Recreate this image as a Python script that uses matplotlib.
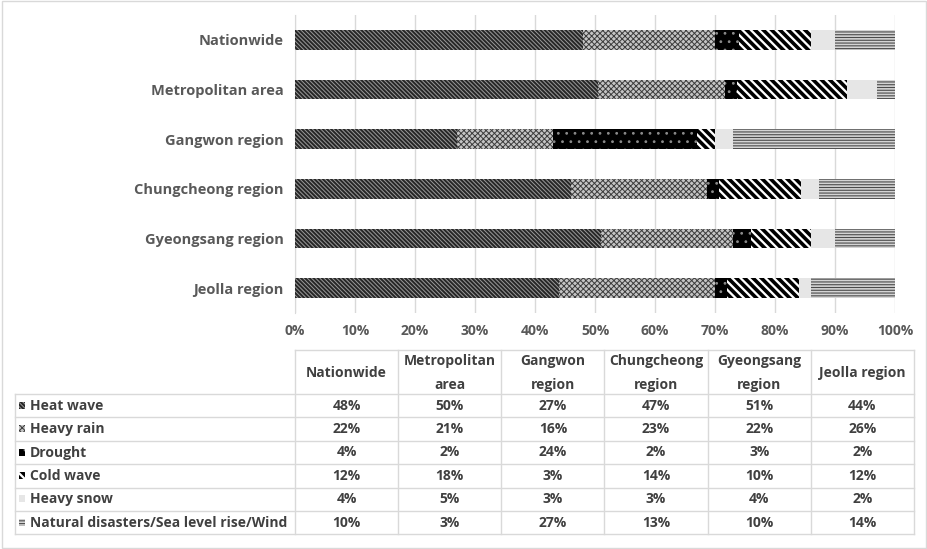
import numpy as np
import matplotlib.pyplot as plt
from matplotlib.patches import Rectangle

regions = ['Nationwide', 'Metropolitan area', 'Gangwon region',
           'Chungcheong region', 'Gyeongsang region', 'Jeolla region']
table_heads = ['Nationwide', 'Metropolitan\narea', 'Gangwon\nregion',
               'Chungcheong\nregion', 'Gyeongsang\nregion', 'Jeolla region']
hazards = ['Heat wave', 'Heavy rain', 'Drought', 'Cold wave', 'Heavy snow',
           'Natural disasters/Sea level rise/Wind']

heat_wave = [48, 50, 27, 47, 51, 44]
heavy_rain = [22, 21, 16, 23, 22, 26]
drought = [4, 2, 24, 2, 3, 2]
cold_wave = [12, 18, 3, 14, 10, 12]
heavy_snow = [4, 5, 3, 3, 4, 2]
natural = [10, 3, 27, 13, 10, 14]
series = [heat_wave, heavy_rain, drought, cold_wave, heavy_snow, natural]

# fill, hatch colour, hatch, hatch width
styles = [
    ('#262626', '#9a9a9a', '\\' * 8, 0.7),
    ('#c4c4c4', '#3c3c3c', 'x' * 6, 0.7),
    ('#000000', '#8a8a8a', '..', 0.8),
    ('#ffffff', '#000000', '\\' * 4, 2.6),
    ('#e6e6e6', '#e6e6e6', None, 0.8),
    ('#d4d4d4', '#4a4a4a', '-' * 6, 0.8),
]

W, H = 928, 549
fig = plt.figure(figsize=(W / 100, H / 100), dpi=100)
plt.rcParams['font.family'] = ['Open Sans', 'DejaVu Sans']

ax = fig.add_axes([295 / W, 1 - 313 / H, 600 / W, 298 / H])
vals = np.array(series, dtype=float)
vals = vals / vals.sum(axis=0) * 100
y = np.arange(len(regions))
left = np.zeros(len(regions))


def set_hatch(p, st):
    if st[2]:
        p.set_hatch(st[2])
        if hasattr(p, 'set_hatch_linewidth'):
            p.set_hatch_linewidth(st[3])
        else:
            p._hatch_linewidth = st[3]


for k, st in enumerate(styles):
    with plt.rc_context({'hatch.linewidth': st[3]}):
        bars = ax.barh(y, vals[k], left=left, height=0.4, color=st[0],
                       edgecolor=st[1], linewidth=0, zorder=3)
        for b in bars:
            set_hatch(b, st)
    left += vals[k]

ax.set_xlim(0, 100)
ax.set_ylim(len(regions) - 0.5, -0.5)
ax.set_yticks(y)
ax.set_yticklabels(regions, fontsize=10.5, fontweight='bold', color='#595959')
ax.set_xticks(np.arange(0, 101, 10))
ax.set_xticklabels([f'{t}%' for t in range(0, 101, 10)], fontsize=10,
                   fontweight='bold', color='#595959')
ax.tick_params(length=0, pad=8)
ax.tick_params(axis='x', pad=8)
ax.grid(axis='x', color='#d9d9d9', linewidth=1, zorder=0)
for s in ['top', 'right', 'bottom']:
    ax.spines[s].set_visible(False)
ax.spines['left'].set_color('#d9d9d9')

# data table underneath
tb = fig.add_axes([0, 0, 1, 1], facecolor='none')
tb.set_xlim(0, W)
tb.set_ylim(H, 0)
tb.axis('off')
lc = '#d9d9d9'
col_x = np.linspace(295, 914, 7)
row_y = [350, 394] + [394 + 23.4 * (i + 1) for i in range(6)]
tb.plot([col_x[0], col_x[-1]], [row_y[0], row_y[0]], color=lc, lw=1)
for yy in row_y[1:]:
    tb.plot([15, col_x[-1]], [yy, yy], color=lc, lw=1)
for xx in col_x:
    tb.plot([xx, xx], [row_y[0], row_y[-1]], color=lc, lw=1)
tb.plot([15, 15], [row_y[1], row_y[-1]], color=lc, lw=1)

tc = '#404040'
fs = 10
for j, h in enumerate(table_heads):
    tb.text((col_x[j] + col_x[j + 1]) / 2, (row_y[0] + row_y[1]) / 2 + 1, h,
            ha='center', va='center', fontsize=fs, fontweight='bold',
            color=tc, linespacing=1.85)
for i, name in enumerate(hazards):
    yc = (row_y[i + 1] + row_y[i + 2]) / 2
    key = Rectangle((19, yc - 4), 6, 7, facecolor=styles[i][0],
                    edgecolor=styles[i][1], linewidth=0)
    set_hatch(key, styles[i])
    tb.add_patch(key)
    tb.text(30, yc, name, ha='left', va='center', fontsize=fs,
            fontweight='bold', color=tc)
    for j in range(len(regions)):
        tb.text((col_x[j] + col_x[j + 1]) / 2, yc, f'{series[i][j]}%',
                ha='center', va='center', fontsize=fs, fontweight='bold',
                color=tc)

# outer border
tb.add_patch(Rectangle((2.5, 0.5), W - 4, H - 2, fill=False,
                       edgecolor=lc, linewidth=1))

fig.savefig('out.png', dpi=100)
